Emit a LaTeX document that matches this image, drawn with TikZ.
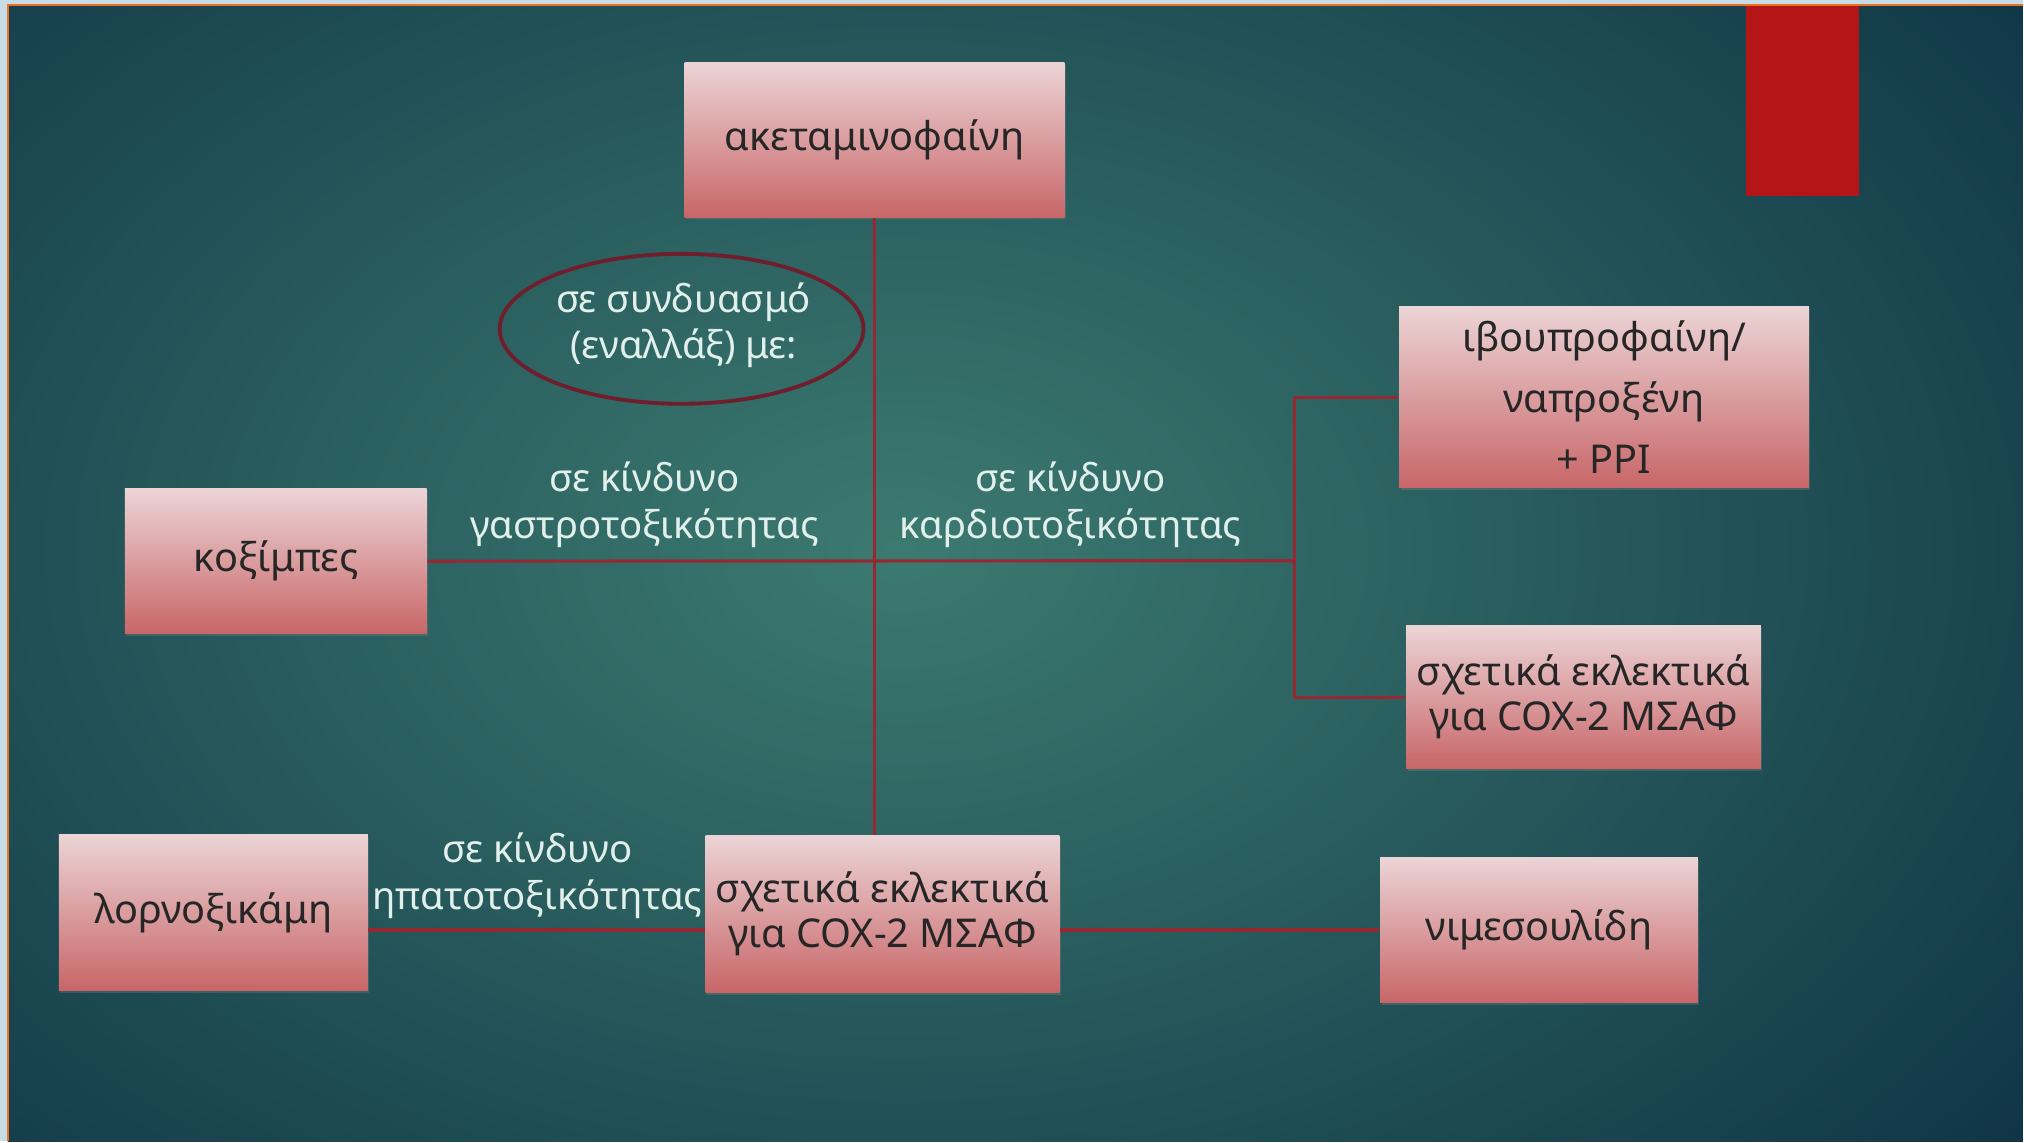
\documentclass[tikz,border=0pt]{standalone}
\usepackage{fontspec}
\setmainfont{Noto Sans}
\usetikzlibrary{shapes.geometric,shadows}

\definecolor{bginner}{RGB}{60,122,112}
\definecolor{bgouter}{RGB}{16,54,70}
\definecolor{boxtop}{RGB}{236,212,214}
\definecolor{boxbottom}{RGB}{200,102,104}
\definecolor{linkred}{RGB}{150,40,52}
\definecolor{ovalred}{RGB}{110,30,45}
\definecolor{labelwhite}{RGB}{226,240,236}
\definecolor{cornerred}{RGB}{180,22,24}
\definecolor{framelight}{RGB}{200,220,232}
\definecolor{frameorange}{RGB}{236,112,30}

\tikzset{
  drug/.style={rectangle, top color=boxtop, bottom color=boxbottom, text=black!85,
    align=center, font=\fontsize{11.3}{12.8}\selectfont, inner sep=2pt,
    drop shadow={opacity=0.35, shadow xshift=0.4pt, shadow yshift=-0.6pt}},
  risk/.style={text=labelwhite, align=center, font=\fontsize{10.9}{13.3}\selectfont, inner sep=0pt},
  link/.style={draw=linkred, line width=0.9pt},
}

\begin{document}
\begin{tikzpicture}
	% slide background
	\fill[framelight] (0,0) rectangle (20.24,-11.42);
	\begin{scope}
		\clip (0.08,-0.05) rectangle (20.24,-11.42);
		\shade[inner color=bginner, outer color=bgouter] (-5.2,4.0) rectangle (23.2,-15.0);
	\end{scope}
	\draw[frameorange, line width=0.7pt] (0.08,-11.42) -- (0.08,-0.05) -- (20.24,-0.05);
	\fill[cornerred] (17.47,-0.06) rectangle (18.60,-1.96);

	\node[drug, minimum width=3.80cm, minimum height=1.55cm] (acet) at (8.75,-1.40) {ακεταμινοφαίνη};
	\node[drug, minimum width=4.10cm, minimum height=1.81cm, font=\fontsize{11.3}{17.3}\selectfont] (ibu) at (16.05,-3.975) {ιβουπροφαίνη/\\ναπροξένη\\+ PPI};
	\node[drug, minimum width=3.55cm, minimum height=1.43cm] (rsel) at (15.845,-6.975) {σχετικά εκλεκτικά\\για COX-2 ΜΣΑΦ};
	\node[drug, minimum width=3.02cm, minimum height=1.45cm] (coxib) at (2.76,-5.615) {κοξίμπες};
	\node[drug, minimum width=3.09cm, minimum height=1.56cm] (lorn) at (2.135,-9.13) {λορνοξικάμη};
	\node[drug, minimum width=3.54cm, minimum height=1.57cm] (msel) at (8.83,-9.145) {σχετικά εκλεκτικά\\για COX-2 ΜΣΑΦ};
	\node[drug, minimum width=3.18cm, minimum height=1.45cm] (nim) at (15.40,-9.305) {νιμεσουλίδη};

	\node[ellipse, draw=ovalred, line width=1.1pt, minimum width=3.64cm, minimum height=1.50cm] (combo) at (6.82,-3.29) {};
	\node[risk] (combotext) at (6.84,-3.255) {σε συνδυασμό\\(εναλλάξ) με:};

	\node[risk] (gastro) at (6.45,-5.05) {σε κίνδυνο\\γαστροτοξικότητας};
	\node[risk] (cardio) at (10.71,-5.05) {σε κίνδυνο\\καρδιοτοξικότητας};
	\node[risk] (hepato) at (5.38,-8.76) {σε κίνδυνο\\ηπατοτοξικότητας};

	\coordinate (split) at (12.95,-5.61);

	\draw[link] (acet.south) -- (acet.south |- msel.north);
	\draw[link] (coxib.east) -- (split);
	\draw[link] (ibu.west) -| (split);
	\draw[link] (rsel.west) -| (split);
	\draw[link] (lorn.east |- nim.west) -- (msel.west |- nim.west);
	\draw[link] (msel.east |- nim.west) -- (nim.west);
\end{tikzpicture}
\end{document}
